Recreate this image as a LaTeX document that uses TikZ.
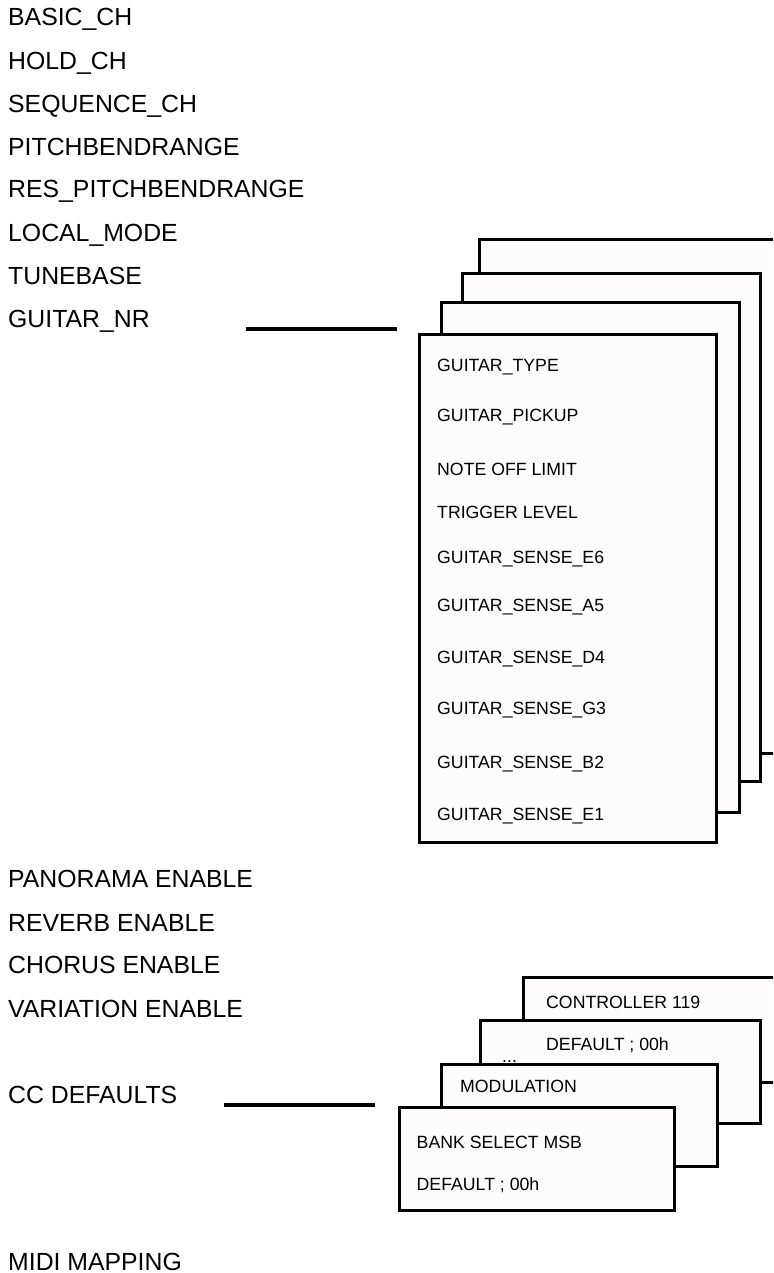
\documentclass[tikz,border=0pt]{standalone}
\usepackage{fontspec}
\setmainfont{Liberation Sans}
\definecolor{boxfill}{RGB}{254,251,252}
\begin{document}
\begin{tikzpicture}[x=1pt,y=-1pt,
  lbl/.style={anchor=base west,inner sep=0pt,font=\fontsize{24.8}{26}\selectfont},
  itm/.style={anchor=base west,inner sep=0pt,font=\fontsize{17.7}{19}\selectfont},
  card/.style={draw=black,line width=3.2pt,fill=boxfill,anchor=north west,inner sep=0pt},
  conn/.style={line width=3.3pt}]
\useasboundingbox (0,0) rectangle (773,1273);
\clip (0,0) rectangle (773,1273);
% left labels
\node[lbl] (basic) at (8,26) {BASIC\_CH};
\node[lbl] (hold) at (8,70) {HOLD\_CH};
\node[lbl] (seq) at (8,113) {SEQUENCE\_CH};
\node[lbl] (pbr) at (8,156) {PITCHBENDRANGE};
\node[lbl] (rpbr) at (8,198) {RES\_PITCHBENDRANGE};
\node[lbl] (local) at (8,241) {LOCAL\_MODE};
\node[lbl] (tune) at (8,284) {TUNEBASE};
\node[lbl] (gnr) at (8,327) {GUITAR\_NR};
\node[lbl] (pan) at (8,887) {PANORAMA ENABLE};
\node[lbl] (rev) at (8,931) {REVERB ENABLE};
\node[lbl] (cho) at (8,973.5) {CHORUS ENABLE};
\node[lbl] (var) at (8,1017) {VARIATION ENABLE};
\node[lbl] (ccd) at (8,1103.5) {CC DEFAULTS};
\node[lbl] (midi) at (8,1270) {MIDI MAPPING};
% guitar stack
\node[card,minimum width=330pt,minimum height=514pt] (g4) at (478,238) {};
\node[card,minimum width=298pt,minimum height=508pt] (g3) at (461,272) {};
\node[card,minimum width=298pt,minimum height=510pt] (g2) at (440,301) {};
\node[card,minimum width=297pt,minimum height=508pt] (g1) at (418,333) {};
\node[itm] (t1) at (437,371.5) {GUITAR\_TYPE};
\node[itm] (t2) at (437,421.5) {GUITAR\_PICKUP};
\node[itm] (t3) at (437,475) {NOTE OFF LIMIT};
\node[itm] (t4) at (437,518) {TRIGGER LEVEL};
\node[itm] (t5) at (437,563.5) {GUITAR\_SENSE\_E6};
\node[itm] (t6) at (437,611.5) {GUITAR\_SENSE\_A5};
\node[itm] (t7) at (437,663.5) {GUITAR\_SENSE\_D4};
\node[itm] (t8) at (437,714.5) {GUITAR\_SENSE\_G3};
\node[itm] (t9) at (437,768) {GUITAR\_SENSE\_B2};
\node[itm] (t10) at (437,820) {GUITAR\_SENSE\_E1};
% CC stack
\node[card,minimum width=290pt,minimum height=105pt] (c4) at (522,976) {};
\node[itm] (cc119) at (546,1008) {CONTROLLER 119};
\node[card,minimum width=280pt,minimum height=103pt] (c3) at (479,1019) {};
\node[itm] (def3) at (546,1050.5) {DEFAULT ; 00h};
\node[itm] (dots) at (502,1062.5) {...};
\node[card,minimum width=276pt,minimum height=102pt] (c2) at (440,1063) {};
\node[itm] (mod) at (460,1092.5) {MODULATION};
\node[card,minimum width=275pt,minimum height=103pt] (c1) at (398,1106) {};
\node[itm] (bank) at (416.5,1148) {BANK SELECT MSB};
\node[itm] (def1) at (416.5,1190) {DEFAULT ; 00h};
% connectors
\coordinate (gA) at (246,329);
\coordinate (gB) at (397,329);
\draw[conn] (gA) -- (gB);
\coordinate (cA) at (224,1105);
\coordinate (cB) at (375,1105);
\draw[conn] (cA) -- (cB);
\end{tikzpicture}
\end{document}
